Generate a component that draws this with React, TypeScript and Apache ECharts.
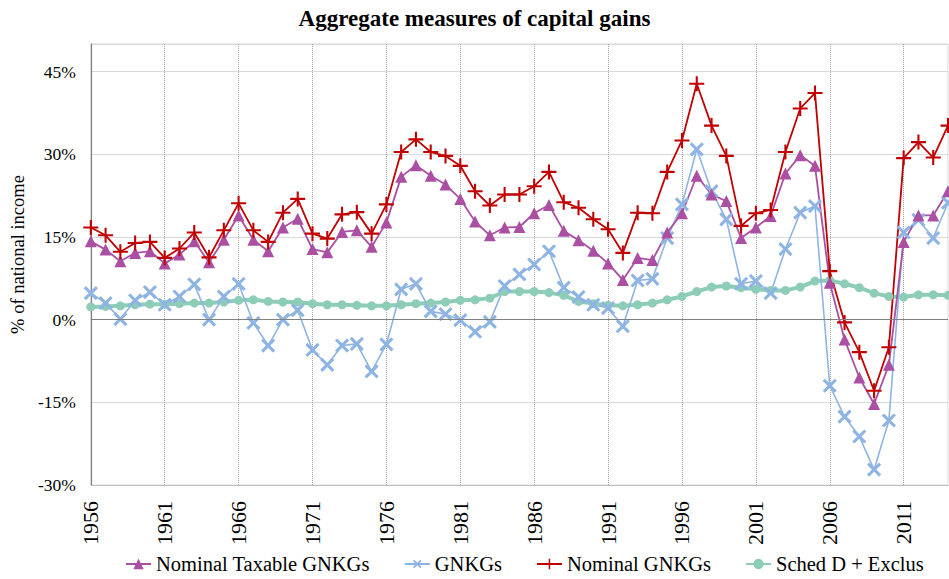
import React, { useEffect, useRef } from "react";
import * as echarts from "echarts";

const years: string[] = [];
for (let y = 1956; y <= 2014; y++) years.push(String(y));

const nominalTaxable = [
  14.2, 12.7, 10.6, 12.1, 12.4, 10.2, 11.8, 14.2, 10.4, 14.5,
  18.9, 14.5, 12.4, 16.7, 18.3, 12.8, 12.2, 15.9, 16.2, 13.2,
  17.6, 25.9, 28.0, 26.1, 24.5, 21.9, 17.8, 15.3, 16.7, 16.8,
  19.3, 20.8, 16.1, 14.4, 12.5, 10.2, 7.2, 11.2, 10.8, 15.8,
  19.3, 26.1, 22.7, 21.5, 14.8, 16.7, 18.8, 26.5, 29.8, 27.9,
  6.7, -3.6, -10.5, -15.3, -8.2, 14.1, 18.9, 18.9, 23.3,
];

const gnkgs = [
  4.8, 3.0, 0.1, 3.5, 5.0, 2.7, 4.2, 6.4, 0.0, 4.2,
  6.5, -0.6, -4.7, 0.0, 1.7, -5.5, -8.2, -4.7, -4.4, -9.4,
  -4.5, 5.5, 6.5, 1.5, 1.0, -0.1, -2.2, -0.4, 6.1, 8.2,
  10.0, 12.4, 5.8, 4.1, 2.7, 2.1, -1.2, 7.1, 7.4, 14.8,
  20.9, 30.9, 23.3, 18.2, 6.5, 7.0, 4.8, 12.8, 19.4, 20.6,
  -12.0, -17.6, -21.2, -27.2, -18.3, 15.8, 18.1, 14.8, 21.2,
];

const nominalGNKGs = [
  16.7, 15.3, 12.3, 13.9, 14.1, 11.2, 12.9, 15.8, 11.3, 16.2,
  21.1, 16.2, 14.1, 19.4, 21.9, 15.6, 14.7, 19.1, 19.5, 15.6,
  20.9, 30.4, 32.7, 30.4, 29.7, 27.9, 23.3, 20.7, 22.7, 22.7,
  24.2, 26.8, 21.3, 20.3, 18.2, 16.4, 12.1, 19.4, 19.3, 26.8,
  32.5, 42.8, 35.2, 29.7, 17.0, 19.3, 19.9, 30.4, 38.3, 41.1,
  8.8, -0.5, -5.9, -12.9, -5.0, 29.3, 32.2, 29.4, 35.2,
];

const schedD = [
  2.3, 2.4, 2.5, 2.7, 2.8, 2.8, 2.9, 3.0, 3.0, 3.2,
  3.5, 3.6, 3.3, 3.2, 3.2, 2.9, 2.7, 2.7, 2.6, 2.5,
  2.5, 2.7, 2.9, 3.0, 3.2, 3.5, 3.6, 3.9, 5.1, 5.1,
  5.1, 4.9, 4.4, 3.3, 2.9, 2.6, 2.5, 2.7, 3.0, 3.6,
  4.2, 5.1, 5.9, 6.1, 5.8, 5.5, 5.3, 5.3, 5.9, 7.0,
  7.1, 6.5, 5.8, 4.8, 4.2, 4.1, 4.5, 4.5, 4.4,
];

const yTicksFmt = (v: number) => (v === 50 ? "" : `${v}%`);

const FONT = "Liberation Serif";
const PLUS = "path://M4.3,0H5.7V4.3H10V5.7H5.7V10H4.3V5.7H0V4.3H4.3Z";
const PLUS_THICK = "path://M4.1,0H5.9V4.1H10V5.9H5.9V10H4.1V5.9H0V4.1H4.1Z";

export default function App() {
  const ref = useRef<HTMLDivElement>(null);
  useEffect(() => {
    if (!ref.current) return;
    const chart = echarts.init(ref.current, undefined, { renderer: "svg" });
    chart.setOption({
      animation: false,
      backgroundColor: "#ffffff",
      textStyle: { fontFamily: FONT },
      title: {
        text: "Aggregate measures of capital gains",
        left: "center",
        top: 2,
        textStyle: { fontFamily: FONT, fontSize: 23, fontWeight: "bold", color: "#000" },
      },
      grid: {
        left: 89,
        right: 1,
        top: 44,
        bottom: 94,
        containLabel: false,
        show: true,
        borderColor: "#D9D9D9",
        borderWidth: 1,
      },
      legend: {
        left: 125,
        top: 553,
        itemWidth: 25,
        itemHeight: 13,
        itemGap: 34,
        padding: 0,
        textStyle: { fontFamily: FONT, fontSize: 20.5, color: "#000", lineHeight: 22 },
        data: ["Nominal Taxable GNKGs", "GNKGs", "Nominal GNKGs", "Sched D + Exclus"],
      },
      xAxis: {
        type: "category",
        data: years,
        boundaryGap: false,
        axisLine: { show: true, onZero: false, lineStyle: { color: "#BFBFBF", width: 1 } },
        axisTick: { show: false },
        axisLabel: {
          interval: 4,
          rotate: 90,
          margin: 16,
          fontFamily: FONT,
          fontSize: 22,
          color: "#000",
        },
        splitLine: {
          show: true,
          interval: 4,
          lineStyle: { type: "dotted", color: "#A6A6A6", width: 1 },
        },
      },
      yAxis: {
        type: "value",
        min: -30,
        max: 50,
        interval: 15,
        name: "% of national income",
        nameLocation: "middle",
        nameGap: 58,
        nameRotate: 90,
        nameTextStyle: { fontFamily: FONT, fontSize: 18.5, color: "#000", padding: [0, 0, 0, 20] },
        axisLine: { show: true, lineStyle: { color: "#808080", width: 1.2 } },
        axisTick: { show: false },
        axisLabel: { formatter: yTicksFmt, fontFamily: FONT, fontSize: 17.5, color: "#000", margin: 15 },
        splitLine: { show: true, lineStyle: { color: "#D9D9D9", width: 1 } },
      },
      series: [
        {
          name: "Sched D + Exclus",
          type: "line",
          data: schedD,
          showAllSymbol: true,
          symbol: "circle",
          symbolSize: 9,
          lineStyle: { color: "#8DCDB8", width: 4 },
          itemStyle: { color: "#8DCDB8" },
          markLine: {
            silent: true,
            symbol: "none",
            label: { show: false },
            lineStyle: { color: "#808080", width: 1.2, type: "solid" },
            data: [{ yAxis: 0 }],
          },
        },
        {
          name: "GNKGs",
          type: "line",
          data: gnkgs,
          showAllSymbol: true,
          symbol: PLUS_THICK,
          symbolRotate: 45,
          symbolSize: 17,
          lineStyle: { color: "#8EB4E3", width: 1.6 },
          itemStyle: { color: "#8EB4E3" },
        },
        {
          name: "Nominal Taxable GNKGs",
          type: "line",
          data: nominalTaxable,
          showAllSymbol: true,
          symbol: "triangle",
          symbolSize: 12,
          lineStyle: { color: "#AB4FA3", width: 1.8 },
          itemStyle: { color: "#AB4FA3" },
        },
        {
          name: "Nominal GNKGs",
          type: "line",
          data: nominalGNKGs,
          showAllSymbol: true,
          symbol: PLUS,
          symbolSize: 15,
          lineStyle: { color: "#C00000", width: 1.8 },
          itemStyle: { color: "#C00000" },
        },
      ],
    });
    return () => chart.dispose();
  }, []);
  return (
    <div
      ref={ref}
      style={{ position: "fixed", left: 0, top: 0, width: 949, height: 579, background: "#fff" }}
    />
  );
}
